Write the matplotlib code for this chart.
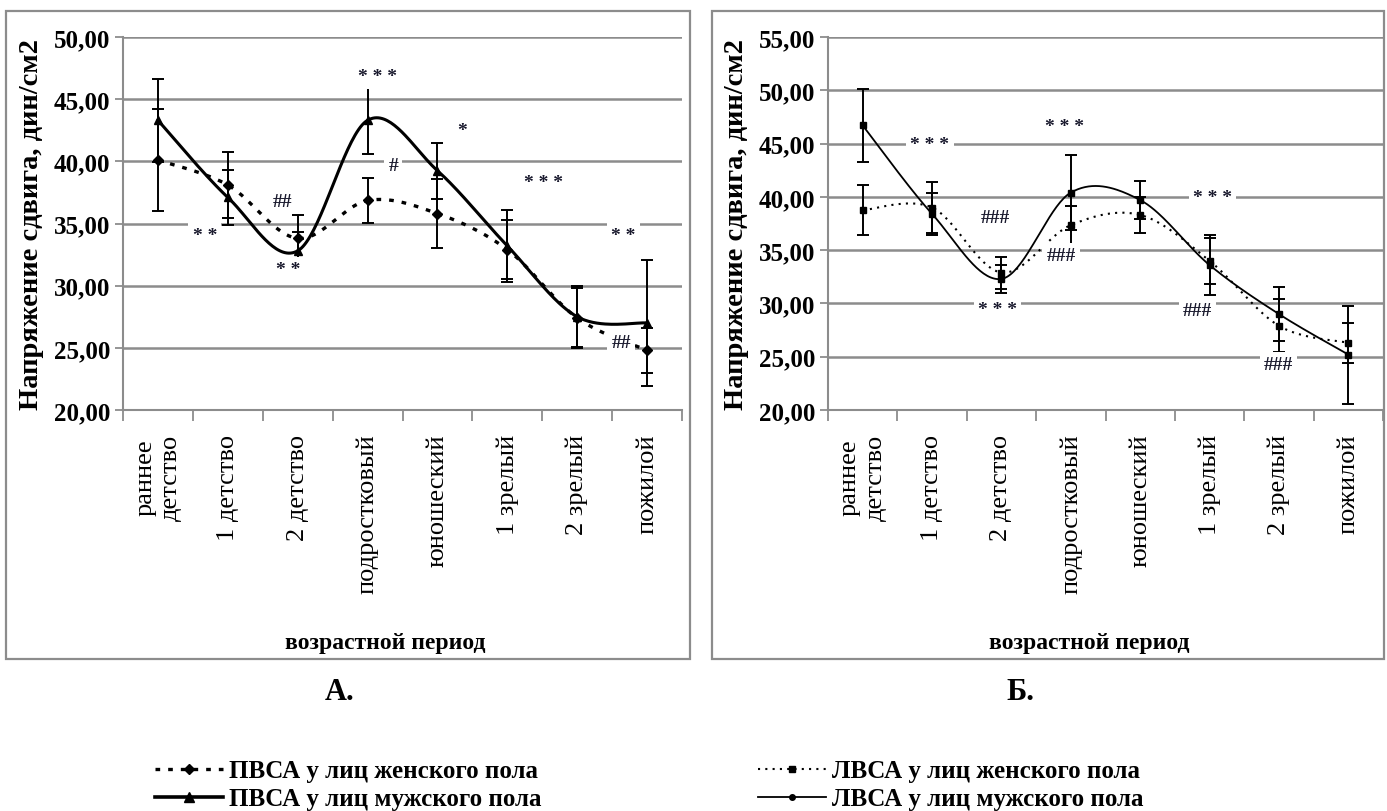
import numpy as np
import matplotlib
matplotlib.use("Agg")
from matplotlib import pyplot as plt
from matplotlib.lines import Line2D
from matplotlib.patches import Rectangle

plt.rcParams['font.family'] = ['Liberation Serif', 'DejaVu Serif']

categories = ['раннее\nдетство', '1 детство', '2 детство', 'подростковый',
              'юношеский', '1 зрелый', '2 зрелый', 'пожилой']

# panel A (ПВСА)
pvsa_f = [40.1, 38.1, 33.8, 36.85, 35.8, 32.9, 27.4, 24.8]
pvsa_f_err = [4.1, 2.65, 1.85, 1.8, 2.8, 2.4, 2.45, 1.8]
pvsa_m = [43.3, 37.1, 32.8, 43.3, 39.25, 33.2, 27.5, 27.0]
pvsa_m_err = [3.35, 2.2, 1.55, 2.7, 2.25, 2.9, 2.45, 5.1]

# panel Б (ЛВСА)
lvsa_f = [38.75, 39.0, 32.9, 37.35, 38.3, 34.0, 27.9, 26.3]
lvsa_f_err = [2.35, 2.4, 1.5, 1.75, 1.7, 2.15, 2.5, 1.85]
lvsa_m = [46.7, 38.4, 32.3, 40.4, 39.7, 33.6, 29.0, 25.2]
lvsa_m_err = [3.45, 2.0, 1.3, 3.5, 1.75, 2.8, 2.55, 4.6]

notes_a = [('* * *', 3.14, 46.8), ('*', 4.35, 42.5), ('#', 3.37, 39.7),
           ('* * *', 5.52, 38.3), ('##', 1.78, 36.8), ('* *', 0.67, 34.0),
           ('* *', 1.86, 31.3), ('* *', 6.66, 34.0), ('##', 6.63, 25.4)]
notes_b = [('* * *', 0.97, 44.9), ('* * *', 2.91, 46.6), ('###', 1.91, 38.1),
           ('###', 2.86, 34.5), ('* * *', 1.94, 29.4), ('* * *', 5.04, 39.9),
           ('###', 4.83, 29.3), ('###', 5.99, 24.3)]

legend_labels = ['ПВСА у лиц женского пола', 'ПВСА у лиц мужского пола',
                 'ЛВСА у лиц женского пола', 'ЛВСА у лиц мужского пола']


def smooth(y, n=40):
    # Excel-like smoothed line (Catmull-Rom as cubic Bezier)
    y = np.asarray(y, float)
    x = np.arange(len(y), dtype=float)
    xs, ys = [], []
    for i in range(len(y) - 1):
        i0, i2, i3 = max(i - 1, 0), i + 1, min(i + 2, len(y) - 1)
        p0 = np.array([x[i], y[i]])
        p3 = np.array([x[i2], y[i2]])
        c1 = p0 + (np.array([x[i2], y[i2]]) - np.array([x[i0], y[i0]])) / 6
        c2 = p3 - (np.array([x[i3], y[i3]]) - np.array([x[i], y[i]])) / 6
        t = np.linspace(0, 1, n)[:, None]
        pts = ((1 - t) ** 3) * p0 + 3 * ((1 - t) ** 2) * t * c1 + 3 * (1 - t) * t ** 2 * c2 + t ** 3 * p3
        xs.extend(pts[:, 0])
        ys.extend(pts[:, 1])
    return np.array(xs), np.array(ys)


def setup(ax, ymax):
    ax.set_xlim(-0.5, 7.5)
    ax.set_ylim(20, ymax)
    ax.set_yticks(np.arange(20, ymax + 0.1, 5))
    ax.set_yticklabels(['%d,00' % v for v in np.arange(20, ymax + 0.1, 5)],
                       fontsize=18, fontweight='bold')
    ax.set_xticks(np.arange(-0.5, 8, 1))
    ax.set_xticklabels([])
    ax.set_xticks(np.arange(8), minor=True)
    ax.set_xticklabels(categories, minor=True, rotation=90, fontsize=19,
                       va='top', ha='center', multialignment='center')
    ax.tick_params(axis='x', which='minor', length=0, pad=17)
    ax.tick_params(axis='x', which='major', length=8, width=1.3, color='#8c8c8c', direction='out')
    ax.tick_params(axis='y', length=6, width=1.3, color='#8c8c8c', pad=3)
    ax.grid(axis='y', color='#8c8c8c', lw=1.8)
    ax.set_axisbelow(True)
    for s in ['top', 'right']:
        ax.spines[s].set_visible(False)
    for s in ['left', 'bottom']:
        ax.spines[s].set_color('#8c8c8c')
        ax.spines[s].set_linewidth(1.5)
    ax.set_ylabel('Напряжение сдвига, дин/см2', fontsize=20.5, fontweight='bold')
    ax.set_xlabel('возрастной период', fontsize=17, fontweight='bold')


fig = plt.figure(figsize=(13.87, 8.12), dpi=100)

for x0, x1 in [(6, 690), (712, 1384)]:
    fig.patches.append(Rectangle((x0 / 1387, 1 - 660 / 812), (x1 - x0) / 1387, 648 / 812,
                                 transform=fig.transFigure, fill=False,
                                 edgecolor='#8c8c8c', lw=1.6))

ax1 = fig.add_axes([123 / 1387, 1 - 411 / 812, (682 - 123) / 1387, 373 / 812])
ax2 = fig.add_axes([828 / 1387, 1 - 411 / 812, (1383 - 828) / 1387, 373 / 812])
setup(ax1, 50)
setup(ax2, 55)
ax1.xaxis.set_label_coords(0.47, -0.595)
ax2.xaxis.set_label_coords(0.47, -0.595)
ax1.yaxis.set_label_coords(-79 / 559, 0.5)
ax2.yaxis.set_label_coords(-79 / 555, 0.5)

idx = np.arange(8)

# panel A
xs, ys = smooth(pvsa_f)
ax1.plot(xs, ys, color='black', lw=2.4, ls=(0, (1.4, 2.4)))
xs, ys = smooth(pvsa_m)
ax1.plot(xs, ys, color='black', lw=2.2)
ax1.errorbar(idx, pvsa_f, yerr=pvsa_f_err, fmt='D', ms=5, color='black',
             elinewidth=1.4, capsize=4, capthick=1.4)
ax1.errorbar(idx, pvsa_m, yerr=pvsa_m_err, fmt='^', ms=6, color='black',
             elinewidth=1.4, capsize=4, capthick=1.4)

# panel Б
xs, ys = smooth(lvsa_f)
ax2.plot(xs, ys, color='black', lw=1.5, ls=(0, (1, 2.5)))
xs, ys = smooth(lvsa_m)
ax2.plot(xs, ys, color='black', lw=1.3)
ax2.errorbar(idx, lvsa_f, yerr=lvsa_f_err, fmt='s', ms=5, color='black',
             elinewidth=1.4, capsize=4, capthick=1.4)
ax2.errorbar(idx, lvsa_m, yerr=lvsa_m_err, fmt='s', ms=5, color='black',
             elinewidth=1.4, capsize=4, capthick=1.4)

for ax, notes in [(ax1, notes_a), (ax2, notes_b)]:
    for txt, x, y in notes:
        ax.text(x, y, txt, fontsize=14, fontweight='bold', color='#1a1a2e',
                ha='center', va='center', zorder=4,
                bbox=dict(facecolor='white', edgecolor='none', pad=3))

fig.text(340 / 1387, 1 - 693 / 812, 'А.', fontsize=22, fontweight='bold', ha='center', va='center')
fig.text(1020 / 1387, 1 - 693 / 812, 'Б.', fontsize=22, fontweight='bold', ha='center', va='center')

handles = [
    Line2D([], [], color='black', lw=2.4, ls=(0, (1.4, 2.4)), marker='D', ms=5),
    Line2D([], [], color='black', lw=2.6, marker='^', ms=7),
    Line2D([], [], color='black', lw=1.5, ls=(0, (1, 2.5)), marker='s', ms=5),
    Line2D([], [], color='black', lw=1.3, marker='o', ms=4),
]
leg_kw = dict(loc='center left', frameon=False, prop={'size': 18, 'weight': 'bold'},
              numpoints=1, handlelength=2.7, handletextpad=0.25, labelspacing=0.2,
              borderpad=0, borderaxespad=0)
fig.legend(handles[:2], legend_labels[:2], bbox_to_anchor=(155 / 1387, 1 - 786 / 812), **leg_kw)
fig.legend(handles[2:], legend_labels[2:], bbox_to_anchor=(758 / 1387, 1 - 786 / 812), **leg_kw)

fig.savefig('out.png', dpi=100)
